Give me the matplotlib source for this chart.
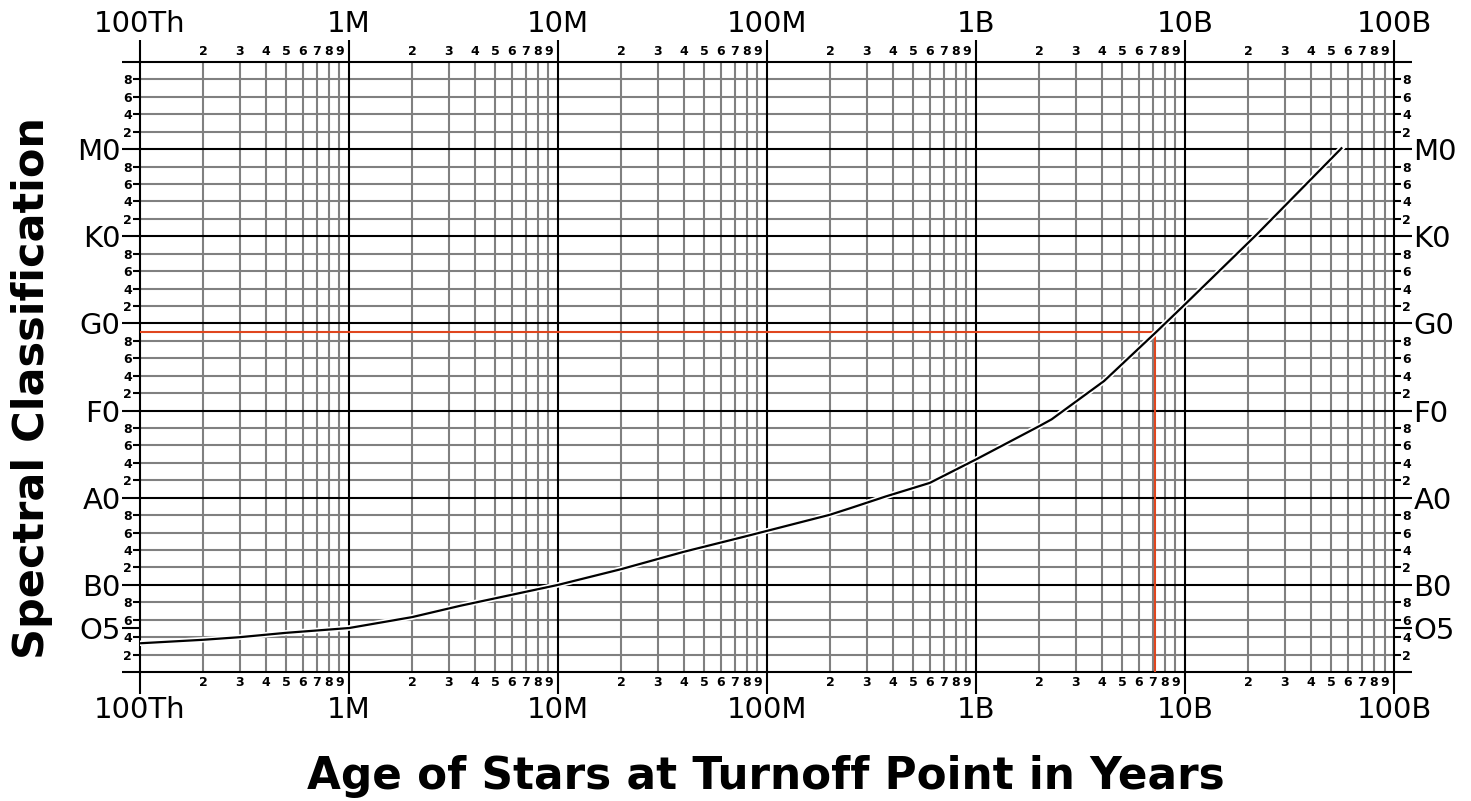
import numpy as np
import matplotlib.pyplot as plt
import matplotlib.patheffects as pe
from matplotlib.ticker import FixedLocator, FixedFormatter

# turnoff age vs spectral class (O0 = 0, B0 = 10, A0 = 20 ... M0 = 60)
age_years = [1e5, 2e5, 3e5, 5e5, 1e6, 2e6, 3.4e6, 1e7, 2e7, 4e7, 7.4e7, 1e8,
             2e8, 2.5e8, 3.7e8, 6e8, 1e9, 2e9, 2.3e9, 4.1e9, 7.3e9, 1e10,
             2.2e10, 5.6e10]
spec_class = [3.3, 3.7, 4.0, 4.5, 5.05, 6.3, 7.6, 10.0, 11.8, 13.8, 15.4, 16.2,
              18.05, 18.8, 20.15, 21.7, 24.4, 28.2, 29.0, 33.4, 39.05, 42.2,
              50.2, 60.1]

# marked turnoff point (red lines)
turnoff_age = 7.2e9
turnoff_class = 39.05

decade_ticks = [1e5, 1e6, 1e7, 1e8, 1e9, 1e10, 1e11]
decade_labels = ['100Th', '1M', '10M', '100M', '1B', '10B', '100B']

class_ticks = [0, 5, 10, 20, 30, 40, 50, 60, 70]
class_labels = ['', 'O5', 'B0', 'A0', 'F0', 'G0', 'K0', 'M0', '']

sub_steps = [2, 4, 6, 8]
digit_steps = [2, 3, 4, 5, 6, 7, 8, 9]

grey = '#808080'
lw = 1.5

fig = plt.figure(figsize=(14.71, 8.01), dpi=100)
ax = fig.add_axes([0.0952, 0.161, 0.8525, 0.7616])
ax.set_xscale('log')
ax.set_xlim(1e5, 1e11)
ax.set_ylim(0, 70)

# x ticks: decades + 2..9 digits
x_minor = [d * s for d in decade_ticks[:-1] for s in digit_steps]
x_minor_lbl = [str(s) for d in decade_ticks[:-1] for s in digit_steps]
ax.xaxis.set_major_locator(FixedLocator(decade_ticks))
ax.xaxis.set_major_formatter(FixedFormatter(decade_labels))
ax.xaxis.set_minor_locator(FixedLocator(x_minor))
ax.xaxis.set_minor_formatter(FixedFormatter(x_minor_lbl))

# y ticks: classes + even subclasses
y_minor = [c * 10 + s for c in range(7) for s in sub_steps]
y_minor_lbl = [str(s) for c in range(7) for s in sub_steps]
ax.yaxis.set_major_locator(FixedLocator(class_ticks))
ax.yaxis.set_major_formatter(FixedFormatter(class_labels))
ax.yaxis.set_minor_locator(FixedLocator(y_minor))
ax.yaxis.set_minor_formatter(FixedFormatter(y_minor_lbl))

ax.tick_params(axis='x', which='major', direction='out', length=16, width=lw,
               pad=1, labelsize=21, top=True, labeltop=True)
ax.tick_params(axis='x', which='minor', length=0, pad=3, labelsize=9,
               top=True, labeltop=True)
ax.tick_params(axis='y', which='major', direction='out', length=13, width=lw,
               pad=1, labelsize=21, right=True, labelright=True)
ax.tick_params(axis='y', which='minor', direction='out', length=5, width=lw,
               pad=1, labelsize=9, right=True, labelright=True)
plt.setp(ax.get_xticklabels(minor=True), fontweight='bold')
plt.setp(ax.get_yticklabels(minor=True), fontweight='bold')

for sp in ax.spines.values():
    sp.set_linewidth(lw)

# grid
for x in x_minor:
    ax.axvline(x, color=grey, lw=lw, zorder=1)
for y in y_minor:
    ax.axhline(y, color=grey, lw=lw, zorder=1)
for x in decade_ticks[1:-1]:
    ax.axvline(x, color='black', lw=lw, zorder=2)
for y in range(10, 70, 10):
    ax.axhline(y, color='black', lw=lw, zorder=2)

# red marker lines
ax.plot([1e5, turnoff_age], [turnoff_class, turnoff_class], color='#e0461e',
        lw=lw, zorder=3)
ax.plot([turnoff_age, turnoff_age], [0, turnoff_class], color='#e0461e',
        lw=lw, zorder=3)

ax.plot(age_years, spec_class, color='black', lw=1.6, zorder=4,
        path_effects=[pe.Stroke(linewidth=4, foreground='white'), pe.Normal()])

fig.text(0.5207, 0.03, 'Age of Stars at Turnoff Point in Years', fontsize=31.5,
         fontweight='bold', ha='center', va='center')
fig.text(0.0218, 0.516, 'Spectral Classification', fontsize=31,
         fontweight='bold', rotation=90, ha='center', va='center')

fig.savefig('out.png', dpi=100)
